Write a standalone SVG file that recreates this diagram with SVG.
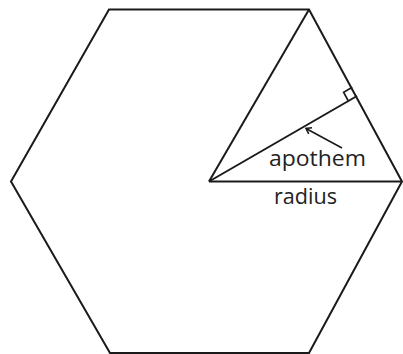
<svg xmlns="http://www.w3.org/2000/svg" width="403" height="354" viewBox="0 0 403 354">
<style>
.ln{fill:none;stroke:#1a1a1a;stroke-width:2;stroke-linejoin:miter}
.thin{fill:none;stroke:#1a1a1a;stroke-width:1.6}
.lbl{font-family:"Open Sans","Liberation Sans",sans-serif;font-size:22px;fill:#222}
</style>
<defs>
<marker id="arr" markerWidth="10" markerHeight="10" refX="7" refY="5" orient="auto" markerUnits="userSpaceOnUse">
<path d="M2,1.5 L7,5 L2,8.5" fill="none" stroke="#1a1a1a" stroke-width="1.6"/>
</marker>
</defs>
<rect width="403" height="354" fill="#fff"/>
<g id="hexagon">
<polygon class="ln" points="109,9.5 309,9.5 402,181.5 309,353 110,353 11,181.5"/>
</g>
<g id="connectors">
<line id="side-radius" class="ln" x1="209" y1="181.5" x2="309" y2="9.5"/>
<line id="radius-line" class="ln" x1="209" y1="181.5" x2="402" y2="181.5"/>
<line id="apothem-line" class="ln" x1="209" y1="181.5" x2="357" y2="96"/>
<polyline id="right-angle" class="thin" points="352.2,87.2 343.6,92.2 348.3,101"/>
<line id="apothem-pointer" class="thin" x1="342" y1="148" x2="306" y2="128.5" marker-end="url(#arr)"/>
</g>
<g id="labels">
<text class="lbl" x="269" y="165.5" textLength="97" lengthAdjust="spacingAndGlyphs">apothem</text>
<text class="lbl" x="274" y="204" textLength="63" lengthAdjust="spacingAndGlyphs">radius</text>
</g>
</svg>
